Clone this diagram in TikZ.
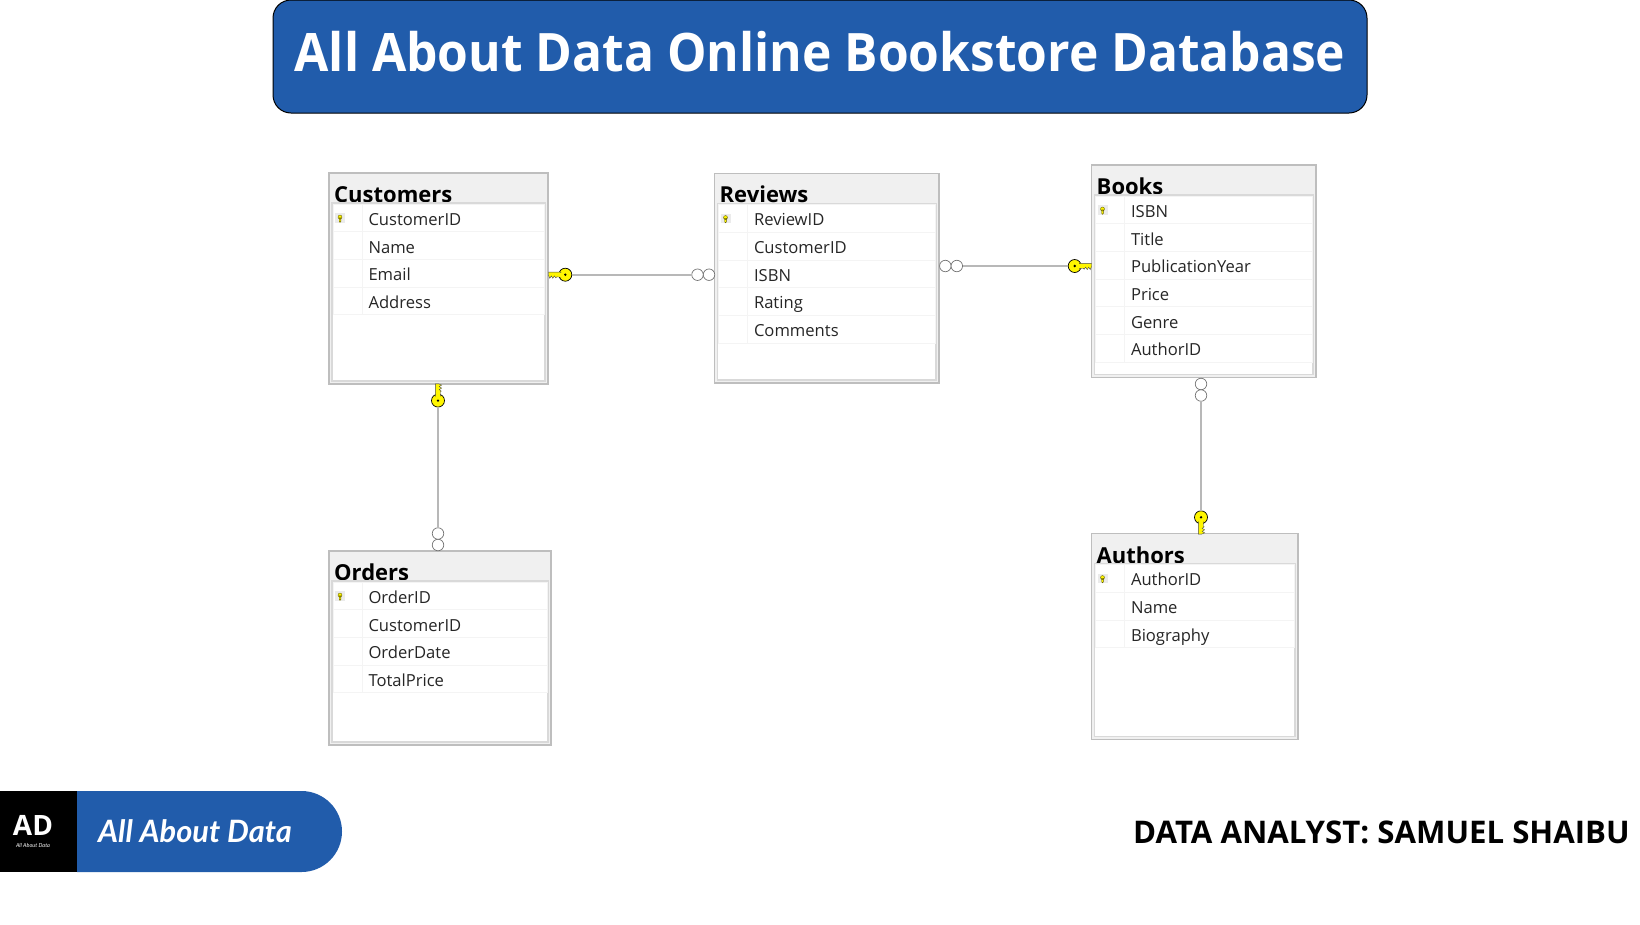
\documentclass[tikz,border=0pt]{standalone}
\usepackage{fontspec}
\setmainfont{Open Sans}
\newfontfamily\titlefont[FakeStretch=0.938]{Open Sans}
\newfontfamily\logofont{Lato}
\usepackage{tikz}
\usetikzlibrary{positioning, shapes.misc}

\definecolor{bannerblue}{HTML}{215CAB}
\definecolor{headergray}{HTML}{F0F0F0}
\definecolor{framegray}{HTML}{BEBEBE}
\definecolor{rowgray}{HTML}{F4F4F4}
\definecolor{keyyellow}{HTML}{FFF600}

\begin{document}
\begin{tikzpicture}[x=1pt, y=1pt]
	% Define styles
	\tikzset{
		banner/.style={rectangle, draw=black, line width=1pt, fill=bannerblue, rounded corners=18pt, minimum width=1094pt, minimum height=113pt, inner sep=0pt, outer sep=0pt, text=white, font=\fontsize{53}{56}\titlefont\bfseries, text height=41pt, text depth=12pt},
		tablebox/.style={rectangle, draw=framegray, line width=1.8pt, fill=headergray, anchor=north west, inner sep=0pt, outer sep=0pt},
		panel/.style={rectangle, draw=black!15, line width=1.2pt, fill=white, inner sep=0pt, outer sep=0pt},
		tabletitle/.style={anchor=base west, inner sep=0pt, font=\fontsize{22}{24}\selectfont\bfseries},
		fieldrow/.style={rectangle, draw=rowgray, line width=.8pt, minimum width=#1pt, text width=#1pt-71pt, minimum height=27.7pt, inner xsep=35.5pt, inner ysep=0pt, outer sep=0pt, align=left, text height=15pt, text depth=0pt, text=black!85, font=\fontsize{16.6}{18}\selectfont},
		colline/.style={draw=rowgray, line width=.8pt},
		relline/.style={draw=black!28, line width=2.4pt},
		manyend/.style={circle, draw=black!55, line width=.7pt, fill=white, minimum size=11.5pt, inner sep=0pt, outer sep=0pt},
		keyhead/.style={circle, draw=black, line width=.7pt, fill=keyyellow, minimum size=13pt, inner sep=0pt, outer sep=0pt},
		keytip/.pic={
			\filldraw[fill=keyyellow, draw=black!70, line width=.4pt] (4.5,2.6) -- (16.8,2.6) -- (16.8,-.6) -- (15.5,-3.6) -- (14,-1.2) -- (12.5,-3.6) -- (11,-1.2) -- (9.5,-3.2) -- (8.5,-2.2) -- (4.5,-2.4) -- cycle;
			\fill[keyyellow] (3.6,2.1) rectangle (6,-1.9);
			\fill[black] (0,0) circle (1.3);
		},
		keymark/.pic={
			\fill[black!8] (-5,-5) rectangle (5,4.5);
			\filldraw[fill=keyyellow, draw=black!60!keyyellow, line width=.4pt, scale=.4] (0,2) circle (5) (-2,0) -- (-2,-9) -- (0,-11) -- (2,-9) -- (2,0) -- cycle;
		},
		logomark/.style={rectangle, fill=black, minimum width=77pt, minimum height=81pt, inner sep=0pt, outer sep=0pt, anchor=north west},
		logopill/.style={rounded rectangle, rounded rectangle left arc=none, fill=bannerblue, minimum width=265pt, minimum height=81pt, inner sep=0pt, outer sep=0pt},
		logotext/.style={text=white, inner sep=0pt, font=\fontsize{30.8}{33}\logofont\bfseries\itshape},
		creditline/.style={anchor=base west, inner sep=0pt, font=\fontsize{31.2}{33}\selectfont\bfseries}
	}
	\useasboundingbox (0,0) rectangle (1640,-924);

	% Banner
	\node[banner, anchor=north west] (banner) at (273,0) {All About Data Online Bookstore Database};

	% Customers
	\node[tablebox, minimum width=219pt, minimum height=211pt] (customers) at (329,-173) {};
	\node[tabletitle] (customerstitle) at ([xshift=5pt, yshift=-29.7pt]customers.north west) {Customers};
	\node[panel, minimum width=213pt, minimum height=178pt, below=30pt of customers.north] (customerspanel) {};
	\node[fieldrow=211, below=1pt of customerspanel.north] (c1) {CustomerID};
	\node[fieldrow=211, below=0pt of c1] (c2) {Name};
	\node[fieldrow=211, below=0pt of c2] (c3) {Email};
	\node[fieldrow=211, below=0pt of c3] (c4) {Address};
	\draw[colline] ([xshift=29pt]c1.north west) -- ([xshift=29pt]c4.south west);
	\pic at ([xshift=7pt]c1.west) {keymark};

	% Reviews
	\node[tablebox, minimum width=224.5pt, minimum height=209.5pt] (reviews) at (714.5,-173.5) {};
	\node[tabletitle] (reviewstitle) at ([xshift=5pt, yshift=-29pt]reviews.north west) {Reviews};
	\node[panel, minimum width=218.5pt, minimum height=176.5pt, below=30pt of reviews.north] (reviewspanel) {};
	\node[fieldrow=216.5, below=1pt of reviewspanel.north] (r1) {ReviewID};
	\node[fieldrow=216.5, below=0pt of r1] (r2) {CustomerID};
	\node[fieldrow=216.5, below=0pt of r2] (r3) {ISBN};
	\node[fieldrow=216.5, below=0pt of r3] (r4) {Rating};
	\node[fieldrow=216.5, below=0pt of r4] (r5) {Comments};
	\draw[colline] ([xshift=29pt]r1.north west) -- ([xshift=29pt]r5.south west);
	\pic at ([xshift=7pt]r1.west) {keymark};

	% Books
	\node[tablebox, minimum width=224.5pt, minimum height=212.5pt] (books) at (1091.5,-165) {};
	\node[tabletitle] (bookstitle) at ([xshift=5pt, yshift=-29.7pt]books.north west) {Books};
	\node[panel, minimum width=218.5pt, minimum height=179.5pt, below=30pt of books.north] (bookspanel) {};
	\node[fieldrow=216.5, below=1pt of bookspanel.north] (b1) {ISBN};
	\node[fieldrow=216.5, below=0pt of b1] (b2) {Title};
	\node[fieldrow=216.5, below=0pt of b2] (b3) {PublicationYear};
	\node[fieldrow=216.5, below=0pt of b3] (b4) {Price};
	\node[fieldrow=216.5, below=0pt of b4] (b5) {Genre};
	\node[fieldrow=216.5, below=0pt of b5] (b6) {AuthorID};
	\draw[colline] ([xshift=29pt]b1.north west) -- ([xshift=29pt]b6.south west);
	\pic at ([xshift=7pt]b1.west) {keymark};

	% Orders
	\node[tablebox, minimum width=222pt, minimum height=194pt] (orders) at (329,-551) {};
	\node[tabletitle] (orderstitle) at ([xshift=5pt, yshift=-29.7pt]orders.north west) {Orders};
	\node[panel, minimum width=216pt, minimum height=161pt, below=30pt of orders.north] (orderspanel) {};
	\node[fieldrow=214, below=1pt of orderspanel.north] (o1) {OrderID};
	\node[fieldrow=214, below=0pt of o1] (o2) {CustomerID};
	\node[fieldrow=214, below=0pt of o2] (o3) {OrderDate};
	\node[fieldrow=214, below=0pt of o3] (o4) {TotalPrice};
	\draw[colline] ([xshift=29pt]o1.north west) -- ([xshift=29pt]o4.south west);
	\pic at ([xshift=7pt]o1.west) {keymark};

	% Authors
	\node[tablebox, minimum width=206.5pt, minimum height=206pt] (authors) at (1091.5,-533.5) {};
	\node[tabletitle] (authorstitle) at ([xshift=5pt, yshift=-29.7pt]authors.north west) {Authors};
	\node[panel, minimum width=200.5pt, minimum height=173pt, below=30pt of authors.north] (authorspanel) {};
	\node[fieldrow=198.5, below=1pt of authorspanel.north] (a1) {AuthorID};
	\node[fieldrow=198.5, below=0pt of a1] (a2) {Name};
	\node[fieldrow=198.5, below=0pt of a2] (a3) {Biography};
	\draw[colline] ([xshift=29pt]a1.north west) -- ([xshift=29pt]a3.south west);
	\pic at ([xshift=7pt]a1.west) {keymark};

	% Relationship ends
	\node[keyhead] (custkey) at (565.3,-274.7) {};
	\node[manyend] (revmany2) at (709,-274.7) {};
	\node[manyend, left=0pt of revmany2] (revmany1) {};
	\node[manyend] (bookmany1) at (945.3,-266) {};
	\node[manyend, right=0pt of bookmany1] (bookmany2) {};
	\node[keyhead] (bookkey) at (1074.7,-266) {};
	\node[keyhead] (ordkey) at (438,-400.6) {};
	\node[manyend] (ordmany2) at (438,-545) {};
	\node[manyend, above=0pt of ordmany2] (ordmany1) {};
	\node[manyend] (authmany1) at (1201,-384) {};
	\node[manyend, below=0pt of authmany1] (authmany2) {};
	\node[keyhead] (authkey) at (1201,-517.3) {};
	\pic[xscale=-1] at (custkey) {keytip};
	\pic at (bookkey) {keytip};
	\pic[rotate=90] at (ordkey) {keytip};
	\pic[rotate=-90, yscale=-1] at (authkey) {keytip};

	% Arrows
	\draw[relline] (custkey) -- (revmany1);
	\draw[relline] (bookmany2) -- (bookkey);
	\draw[relline] (ordkey) -- (ordmany1);
	\draw[relline] (authmany2) -- (authkey);

	% Footer
	\node[logomark] (logo) at (0,-791) {};
	\node[logopill, right=0pt of logo] (pill) {};
	\node[logotext, anchor=west, right=21pt of pill.west] (pilltext) {All About Data};
	\node[text=white, inner sep=0pt, font=\fontsize{28}{28}\selectfont\bfseries, text height=20pt, text depth=0pt] (logoad) at (33,-825) {AD};
	\node[text=white, inner sep=0pt, font=\fontsize{5.5}{6}\logofont\itshape, text height=4pt, text depth=0pt] (logosub) at (33,-845) {All About Data};
	\node[creditline] (credit) at (1133,-843) {DATA ANALYST: SAMUEL SHAIBU};
\end{tikzpicture}
\end{document}
